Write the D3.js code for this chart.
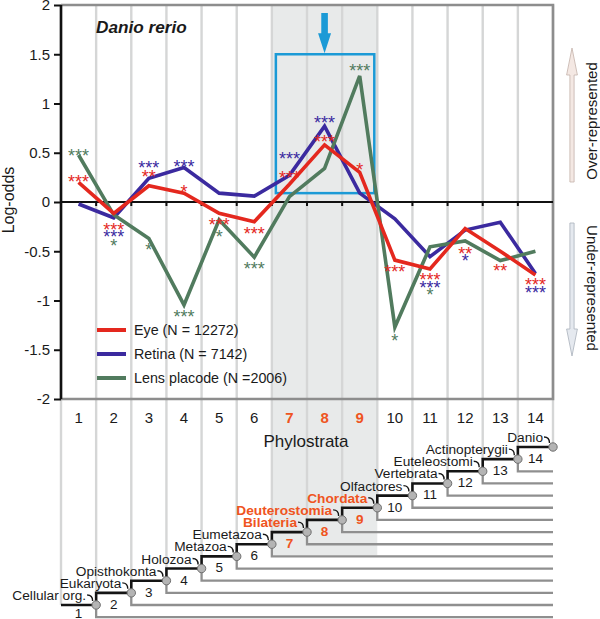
<!DOCTYPE html>
<html><head><meta charset="utf-8">
<script src="https://cdn.jsdelivr.net/npm/d3@7"></script>
<style>
body{margin:0;background:#fff}
svg{display:block;font-family:"Liberation Sans",Arial,Helvetica,sans-serif}
</style>
</head><body>
<svg id="chart" width="600" height="619"></svg>
<script>
// ---------------- DATA ----------------
const categories = [1,2,3,4,5,6,7,8,9,10,11,12,13,14];
const highlighted = [7,8,9];
const eye    = [0.20,-0.115,0.165,0.09,-0.115,-0.20,0.18,0.58,0.30,-0.59,-0.68,-0.27,-0.50,-0.74];
const retina = [-0.02,-0.16,0.24,0.35,0.09,0.06,0.27,0.77,0.09,-0.17,-0.555,-0.285,-0.205,-0.725];
const lens   = [0.477,-0.13,-0.37,-1.045,-0.18,-0.56,0.054,0.34,1.28,-1.27,-0.455,-0.395,-0.595,-0.50];
const eyeSig    = ["***","***","**","*","***","***","***","***","*","***","***","**","**","***"];
const retinaSig = ["","***","***","***","","","***","***","","","***","*","","***"];
const lensSig   = ["***","*","*","***","*","***","","","***","*","*","","",""];
const seriesNames = ["Eye (N = 12272)","Retina (N = 7142)","Lens placode (N =2006)"];
const yTicks = [2,1.5,1,0.5,0,-0.5,-1,-1.5,-2];
const yTickLabels = ["2","1.5","1","0.5","0","-0.5","-1","-1.5","-2"];
const clades = ["Cellular org.","Eukaryota","Opisthokonta","Holozoa","Metazoa","Eumetazoa","Bilateria",
  "Deuterostomia","Chordata","Olfactores","Vertebrata","Euteleostomi","Actinopterygii","Danio"];
const boxRange = [1.5, 0.09];   // highlighted window (log-odds)

// ---------------- LAYOUT / STYLE ----------------
const colors = ["#e4281e","#3b2a9f","#517b5e"];
const orange = "#ef5421";
const svg = d3.select("#chart");
const x = d3.scaleBand().domain(categories).range([61,553]).padding(0);
const bw = x.bandwidth();
const cx = c => x(c) + bw/2;
const bx = j => 61 + j*bw;                 // boundary j = 0..14
const y = d3.scaleLinear().domain([-2,2]).range([399,5]);
const ty = d3.scaleLinear().domain([1,14]).range([605,447]);  // tree levels
const step = ty(1) - ty(2);

// per-label vertical nudges (px) for the significance stars
const sigDy = [
  [-5,12,-13,-5,7,8,-11,-7,-7,8,7,21,15,6],
  [0,15,-15,-5,0,0,-21,-7,0,0,27,27,0,15],
  [-3,27,7,8,13,8,0,0,-9,10,44,0,0,0]
];

// shaded band
svg.append("rect").attr("x",x(7)).attr("y",5).attr("width",3*bw).attr("height",550).attr("fill","#e8eaea");

// grid lines
d3.range(0,15).forEach(j=>{
  svg.append("line").attr("x1",bx(j)).attr("x2",bx(j)).attr("y1",5).attr("y2",ty(Math.min(j+1,14)))
    .attr("stroke","#d5d6d6").attr("stroke-width",2.4);
});

// frame
svg.append("path").attr("d",`M61,5H553V399H61`).attr("fill","none").attr("stroke","#8d8d8d").attr("stroke-width",2.6);

// zero line with ticks
svg.append("line").attr("x1",61).attr("x2",553).attr("y1",y(0)).attr("y2",y(0)).attr("stroke","#111").attr("stroke-width",2.2);
d3.range(1,14).forEach(j=>{
  svg.append("line").attr("x1",bx(j)).attr("x2",bx(j)).attr("y1",y(0)).attr("y2",y(0)+4).attr("stroke","#111").attr("stroke-width",2);
});

// highlight box and arrow
svg.append("rect").attr("x",x(7)+4).attr("y",y(boxRange[0])).attr("width",3*bw-7)
  .attr("height",y(boxRange[1])-y(boxRange[0])).attr("fill","none").attr("stroke","#1b9ad6").attr("stroke-width",2.5);
{
  const ax = cx(8), top = 13, tip = y(boxRange[0]) - 1, hb = tip - 20;
  svg.append("path").attr("d",`M${ax-3.3},${top}H${ax+3.3}V${hb}H${ax+6.5}L${ax},${tip}L${ax-6.5},${hb}H${ax-3.3}Z`).attr("fill","#1b9ad6");
}

// series lines
const series = [eye, retina, lens];
const line = d3.line().x((d,i)=>cx(categories[i])).y(d=>y(d));
[1,2,0].forEach(s=>{
  svg.append("path").datum(series[s]).attr("d",line).attr("fill","none")
    .attr("stroke",colors[s]).attr("stroke-width",3.6).attr("stroke-linejoin","miter");
});

// significance stars
const sigs = [eyeSig, retinaSig, lensSig];
sigs.forEach((sg,s)=>{
  sg.forEach((t,i)=>{
    if(!t) return;
    const cyv = y(series[s][i]) + sigDy[s][i];
    svg.append("text").attr("x",cx(categories[i])).attr("y",cyv + 10.3)
      .attr("text-anchor","middle").attr("font-size",18).attr("fill",colors[s]).text(t);
  });
});

// legend
seriesNames.forEach((n,i)=>{
  const ly = 330 + i*24;
  svg.append("line").attr("x1",97).attr("x2",126).attr("y1",ly).attr("y2",ly).attr("stroke",colors[i]).attr("stroke-width",4);
  svg.append("text").attr("x",134).attr("y",ly+5).attr("font-size",14.3).attr("fill","#1a1a1a").text(n);
});

// y axis
const yAxis = d3.axisLeft(y).tickValues(yTicks).tickFormat((d,i)=>yTickLabels[i]).tickSize(7).tickPadding(4);
const ga = svg.append("g").attr("transform","translate(61,0)").call(yAxis);
ga.select(".domain").attr("stroke","#111").attr("stroke-width",2.6).attr("d","M0,5V399");
ga.selectAll(".tick line").attr("stroke","#111").attr("stroke-width",2);
ga.selectAll(".tick text").attr("font-size",15).attr("fill","#1a1a1a").attr("font-family","Liberation Sans,Arial,sans-serif");

// x axis labels
const xAxis = d3.axisBottom(x).tickSize(0).tickPadding(13.4);
const gx = svg.append("g").attr("transform","translate(0,399)").call(xAxis);
gx.select(".domain").remove();
gx.selectAll(".tick text").attr("font-size",15).attr("font-family","Liberation Sans,Arial,sans-serif")
  .attr("fill",d=>highlighted.includes(d)?orange:"#1a1a1a")
  .attr("font-weight",d=>highlighted.includes(d)?"bold":"normal");
svg.append("text").attr("x",306).attr("y",447).attr("text-anchor","middle").attr("font-size",17).attr("fill","#1a1a1a").text("Phylostrata");

// axis title & chart title
svg.append("text").attr("transform","translate(14,200) rotate(-90)").attr("text-anchor","middle").attr("font-size",16).attr("fill","#1a1a1a").text("Log-odds");
svg.append("text").attr("x",96).attr("y",33).attr("font-size",17.2).attr("font-weight","bold").attr("font-style","italic").attr("fill","#1a1a1a").text("Danio rerio");

// right side arrows
{
  const ax = 572;
  const up = {top:48, head:75, bot:182};
  svg.append("path").attr("d",`M${ax},${up.top}L${ax+5.4},${up.head}H${ax+2.1}V${up.bot}H${ax-2.1}V${up.head}H${ax-5.4}Z`)
    .attr("fill","#f4e8e3").attr("stroke","#c4b3ab").attr("stroke-width",0.8);
  const dn = {top:223, head:329, bot:356};
  svg.append("path").attr("d",`M${ax-2.1},${dn.top}H${ax+2.1}V${dn.head}H${ax+5.4}L${ax},${dn.bot}L${ax-5.4},${dn.head}H${ax-2.1}Z`)
    .attr("fill","#e5e9ef").attr("stroke","#a9b1bb").attr("stroke-width",0.8);
  svg.append("text").attr("transform","translate(597,121) rotate(-90)").attr("text-anchor","middle").attr("font-size",15).attr("fill","#1a1a1a").text("Over-represented");
  svg.append("text").attr("transform","translate(587,288) rotate(90)").attr("text-anchor","middle").attr("font-size",15).attr("fill","#1a1a1a").text("Under-represented");
}

// ---------------- TREE ----------------
const nodes = categories.map(k=>({k, x:bx(k), y:ty(k)}));
// gray branches
nodes.filter(n=>n.k<14).forEach(n=>{
  svg.append("path").attr("d",`M${n.x},${n.y}V${n.y+step}H${bx(14)}`).attr("fill","none")
    .attr("stroke","#8f8f8f").attr("stroke-width",2.3);
});
// black staircase
const stair = [[bx(0),ty(1)]].concat(nodes.map(n=>[n.x,n.y]));
svg.append("path").attr("d",d3.line().curve(d3.curveStepBefore)(stair)).attr("fill","none")
  .attr("stroke","#141414").attr("stroke-width",2.6);
// hooks & labels
nodes.forEach(n=>{
  svg.append("path").attr("d",`M${n.x-9},${n.y-10}Q${n.x-3.5},${n.y-10} ${n.x-3.5},${n.y-4}`)
    .attr("fill","none").attr("stroke","#141414").attr("stroke-width",1.4);
  const hl = highlighted.includes(n.k);
  svg.append("text").attr("x",n.x-10).attr("y",n.y-5).attr("text-anchor","end").attr("font-size",13.7)
    .attr("font-weight",hl?"bold":"normal").attr("fill",hl?orange:"#1a1a1a").text(clades[n.k-1]);
  svg.append("text").attr("x",cx(n.k)).attr("y",Math.min(n.y+16,618)).attr("text-anchor","middle").attr("font-size",13.5)
    .attr("font-weight",hl?"bold":"normal").attr("fill",hl?orange:"#1a1a1a").text(n.k);
});
// node circles
svg.selectAll("circle.node").data(nodes).join("circle").attr("class","node")
  .attr("cx",d=>d.x).attr("cy",d=>d.y).attr("r",4.2).attr("fill","#b4b4b4").attr("stroke","#6f6f6f").attr("stroke-width",1);
</script>
</body></html>
